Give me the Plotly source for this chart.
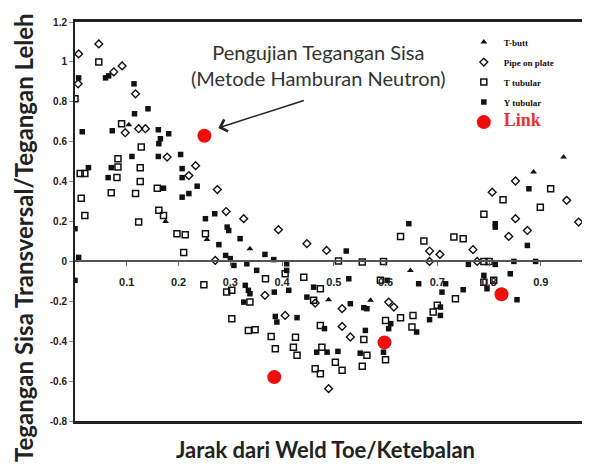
import plotly.graph_objects as go

# ---- data (x = distance from weld toe / thickness, y = residual stress / yield) ----
tbutt_x = [0.104, 0.175, 0.255, 0.338, 0.490, 0.571, 0.648, 0.886, 0.944]
tbutt_y = [0.685, 0.200, 0.110, 0.064, -0.192, -0.195, -0.045, 0.448, 0.523]

pipe_x = [0.046, 0.007, 0.091, 0.075, 0.006, 0.117, 0.097, 0.123, 0.136, 0.178,
          0.233, 0.220, 0.275, 0.292, 0.326, 0.393, 0.271, 0.367, 0.406, 0.464,
          0.516, 0.516, 0.532, 0.606, 0.616, 0.490, 0.448, 0.486, 0.685, 0.705,
          0.685, 0.769, 0.777, 0.838, 0.874, 0.806, 0.851, 0.950, 0.990, 0.973,
          0.851, 0.990]
pipe_y = [1.090, 1.040, 0.980, 0.950, 0.890, 0.840, 0.645, 0.665, 0.665, 0.523,
          0.480, 0.430, 0.360, 0.250, 0.214, 0.159, 0.005, -0.170, -0.271, -0.209,
          -0.237, -0.326, -0.379, -0.204, -0.229, -0.638, 0.089, 0.055, 0.052, 0.035,
          0.000, 0.059, 0.000, 0.125, 0.155, 0.347, 0.403, 0.306, 0.306, 0.197,
          0.214, 0.690]

ttub_x = [0.046, 0.000, 0.090, 0.128, 0.083, 0.010, 0.019, 0.083, 0.126, 0.081,
          0.126, 0.159, 0.070, 0.117, 0.012, 0.019, 0.123, 0.162, 0.171, 0.197,
          0.213, 0.252, 0.210, 0.249, 0.293, 0.303, 0.368, 0.406, 0.338, 0.303,
          0.335, 0.348, 0.379, 0.387, 0.426, 0.422, 0.429, 0.461, 0.474, 0.477,
          0.503, 0.516, 0.464, 0.474, 0.558, 0.564, 0.555, 0.600, 0.442, 0.474,
          0.509, 0.555, 0.596, 0.629, 0.674, 0.732, 0.750, 0.790, 0.800, 0.590,
          0.790, 0.600, 0.629, 0.653, 0.651, 0.692, 0.700, 0.735, 0.809, 0.827,
          0.790, 0.919, 0.899, 0.990]
ttub_y = [1.000, 0.815, 0.690, 0.573, 0.515, 0.440, 0.440, 0.473, 0.470, 0.420,
          0.400, 0.367, 0.344, 0.340, 0.317, 0.230, 0.197, 0.256, 0.230, 0.139,
          0.134, 0.139, 0.044, -0.117, -0.154, -0.145, -0.087, -0.062, -0.204, -0.287,
          -0.346, -0.342, -0.376, -0.438, -0.380, -0.430, -0.471, -0.195, -0.321, -0.430,
          -0.505, -0.546, -0.538, -0.563, -0.392, -0.471, -0.526, -0.493, -0.079, -0.137,
          0.002, -0.003, 0.000, 0.125, 0.102, 0.122, 0.114, 0.000, 0.000, -0.095,
          -0.104, -0.296, -0.282, -0.271, -0.329, -0.254, -0.220, -0.187, -0.095, 0.309,
          0.236, 0.364, 0.272, 0.264]

ytub_x = [0.059, 0.065, 0.007, 0.114, 0.115, 0.141, 0.014, 0.072, 0.161, 0.181,
          0.165, 0.162, 0.110, 0.161, 0.204, 0.026, 0.070, 0.207, 0.064, 0.207,
          0.171, 0.236, 0.207, 0.220, 0.252, 0.270, 0.294, 0.297, 0.000, 0.278,
          0.007, 0.291, 0.300, 0.307, 0.000, 0.319, 0.367, 0.384, 0.332, 0.351,
          0.409, 0.409, 0.329, 0.335, 0.338, 0.326, 0.385, 0.413, 0.387, 0.390,
          0.429, 0.448, 0.532, 0.558, 0.564, 0.482, 0.561, 0.467, 0.487, 0.508,
          0.551, 0.524, 0.760, 0.812, 0.848, 0.890, 0.874, 0.990, 0.461, 0.529,
          0.603, 0.664, 0.716, 0.750, 0.790, 0.796, 0.841, 0.854, 0.610, 0.606,
          0.660, 0.685, 0.706, 0.706, 0.709, 0.596, 0.645, 0.812, 0.812, 0.877,
          0.986, 0.993, 0.990, 0.993, 0.990]
ytub_y = [0.920, 0.930, 0.920, 0.890, 0.740, 0.765, 0.650, 0.655, 0.660, 0.640,
          0.615, 0.590, 0.526, 0.526, 0.536, 0.470, 0.470, 0.465, 0.420, 0.420,
          0.367, 0.377, 0.322, 0.340, 0.214, 0.239, 0.172, 0.155, 0.164, 0.084,
          0.020, 0.030, 0.014, -0.020, -0.095, 0.114, 0.035, 0.009, -0.012, -0.045,
          -0.012, -0.045, -0.120, -0.145, -0.162, -0.204, -0.154, -0.145, -0.276, -0.304,
          -0.282, -0.179, -0.212, -0.232, -0.237, -0.337, -0.346, -0.455, -0.455, -0.451,
          -0.460, 0.052, -0.015, -0.015, 0.000, 0.000, 0.080, 0.122, -0.129, -0.087,
          -0.095, -0.112, -0.112, -0.142, -0.070, -0.137, -0.062, -0.192, -0.312, -0.337,
          -0.354, -0.292, -0.271, -0.229, -0.154, -0.455, 0.189, 0.189, 0.172, 0.364,
          0.640, 0.214, 0.172, -0.079, -0.280]

link_x = [0.250, 0.385, 0.598, 0.824, 0.998]
link_y = [0.630, -0.580, -0.406, -0.165, -0.020]

y_range = [-0.8, 1.2]
x_range = [0, 0.995]
y_ticks = [1.2, 1.0, 0.8, 0.6, 0.4, 0.2, 0.0, -0.2, -0.4, -0.6, -0.8]
y_tick_text = ["1.2", "1", "0.8", "0.6", "0.4", "0.2", "0", "-0.2", "-0.4", "-0.6", "-0.8"]
x_ticks = [0.1, 0.2, 0.3, 0.4, 0.5, 0.6, 0.7, 0.8, 0.9]
x_tick_text = ["0.1", "0.2", "0.3", "0.4", "0.5", "0.6", "0.7", "0.8", "0.9"]

INK = "#111111"
RED = "#f20d0d"

fig = go.Figure()
fig.add_trace(go.Scatter(x=tbutt_x, y=tbutt_y, mode="markers", name="T-butt",
                         legendgroup="g1",
                         marker=dict(symbol="triangle-up", size=6, color=INK)))
fig.add_trace(go.Scatter(x=pipe_x, y=pipe_y, mode="markers", name="Pipe on plate",
                         legendgroup="g2",
                         marker=dict(symbol="diamond-open", size=6, color=INK,
                                     line=dict(width=1.4, color=INK))))
fig.add_trace(go.Scatter(x=ttub_x, y=ttub_y, mode="markers", name="T tubular",
                         legendgroup="g3",
                         marker=dict(symbol="square-open", size=6, color=INK,
                                     line=dict(width=1.5, color=INK))))
fig.add_trace(go.Scatter(x=ytub_x, y=ytub_y, mode="markers", name="Y tubular",
                         legendgroup="g4",
                         marker=dict(symbol="square", size=5.5, color=INK)))
# highlighted points use the matching zero-crossing axis (same scale as x)
fig.add_trace(go.Scatter(x=link_x, y=link_y, mode="markers", xaxis="x2",
                         name="<span style='font-size:18px;color:#e83333'>Link</span>",
                         legendgroup="g5",
                         marker=dict(symbol="circle", size=14, color=RED)))

# the page body adds an 8px offset; size/margins compensate so the plot area
# sits at x 75..590, y 22..421 in the 590x464 window
fig.update_layout(
    width=582, height=456,
    margin=dict(l=67, r=0, t=14, b=43),
    paper_bgcolor="white", plot_bgcolor="white",
    font=dict(family="Lato", color="#222"),
    showlegend=True,
    legend=dict(x=0.755, y=0.986, xanchor="left", yanchor="top",
                bgcolor="rgba(0,0,0,0)", tracegroupgap=1,
                font=dict(family="Liberation Serif", size=9, color=INK, weight="bold")),
    # frame: bottom axis mirrored to the top, no ticks
    xaxis=dict(range=x_range, showline=True, mirror=True,
               linecolor="#222", linewidth=2.5,
               showgrid=False, zeroline=False, showticklabels=False, ticks=""),
    # axis crossing at y = 0 carrying the tick marks and labels
    xaxis2=dict(range=x_range, matches="x", overlaying="x", anchor="free", position=0.4,
                showline=True, linecolor="#555", linewidth=2,
                showgrid=False, zeroline=False,
                tickmode="array", tickvals=x_ticks, ticktext=x_tick_text,
                ticks="outside", ticklen=4, tickwidth=1, tickcolor="#666",
                ticklabelstandoff=6,
                tickfont=dict(family="Liberation Sans", size=11, color="#222", weight="bold")),
    yaxis=dict(range=y_range, showline=True, linecolor="#222", linewidth=2,
               showgrid=False, zeroline=False,
               tickmode="array", tickvals=y_ticks, ticktext=y_tick_text,
               ticks="outside", ticklen=4, tickwidth=1, tickcolor="#888",
               tickfont=dict(family="Liberation Sans", size=10, color="#222", weight="bold")),
    annotations=[
        dict(text="Pengujian Tegangan Sisa<br>(Metode Hamburan Neutron)",
             x=0.47, y=0.985, xref="x", yref="y", showarrow=False,
             xanchor="center", yanchor="middle",
             font=dict(family="Lato", size=20, color="#333")),
        dict(text="", x=0.277, y=0.669, xref="x", yref="y",
             showarrow=True, ax=87, ay=-28, arrowhead=4, arrowsize=1.6,
             arrowwidth=1.5, arrowcolor="#222"),
        dict(text="Jarak dari Weld Toe/Ketebalan", x=0.487, y=-0.071,
             xref="paper", yref="paper", showarrow=False,
             xanchor="center", yanchor="middle",
             font=dict(family="Lato", size=22, color="#222", weight="bold")),
        dict(text="Tegangan Sisa Transversal/Tegangan Leleh", x=-0.101, y=0.461,
             xref="paper", yref="paper", showarrow=False, textangle=-90,
             xanchor="center", yanchor="middle",
             font=dict(family="Lato", size=24, color="#222", weight="bold")),
    ],
)

fig.write_html("out.html")
